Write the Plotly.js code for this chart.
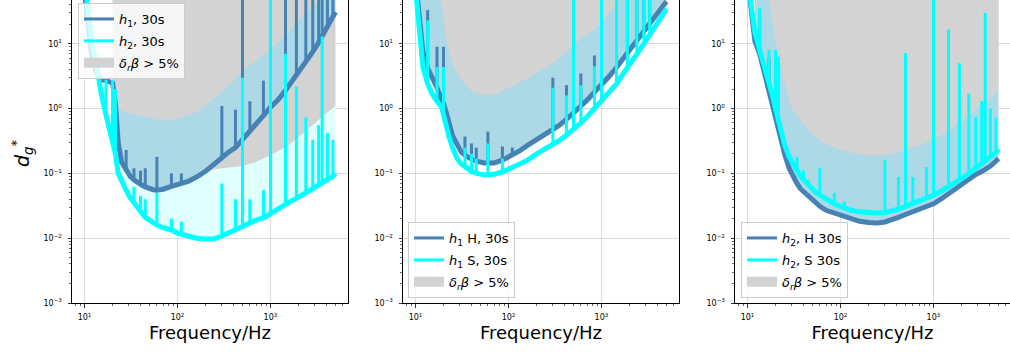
<!DOCTYPE html>
<html><head><meta charset="utf-8">
<script src="https://cdn.plot.ly/plotly-3.0.1.min.js"></script>
<style>html,body{margin:0;padding:0;background:#fff}#chart{width:1010px;height:352px}</style>
</head><body><div id="chart"></div>
<script>
// ---------- data ----------
const freq = [10, 11, 12, 13.5, 15, 17, 19, 20, 21.5, 23,
  25, 28, 31, 34, 37, 40, 45, 50, 55, 60,
  70, 86, 100, 110, 130, 160, 200, 250, 300, 350,
  420, 500, 600, 700, 840, 1000, 1200, 1450, 1700, 1900,
  2150, 2400, 2850, 3300, 3600, 4100, 4700, 5000];

// panel 1
const p1H1 = [60, 15, 6, 3.5, 2.8, 2.7, 2.6, 2.5, 1.2, 0.3,
  0.15, 0.11, 0.09, 0.08, 0.072, 0.068, 0.062, 0.058, 0.056, 0.055,
  0.057, 0.063, 0.068, 0.07, 0.075, 0.088, 0.108, 0.14, 0.18, 0.21,
  0.25, 0.33, 0.43, 0.55, 0.78, 1.05, 1.35, 1.9, 2.6, 3.2,
  4.2, 5.2, 7.5, 10.5, 13, 18, 26, 31];
const p1H2 = [100, 25, 10, 4.5, 1.8, 0.8, 0.4, 0.3, 0.2, 0.1,
  0.075, 0.055, 0.042, 0.035, 0.03, 0.026, 0.021, 0.019, 0.017, 0.016,
  0.0145, 0.0134, 0.012, 0.0115, 0.0105, 0.01, 0.0097, 0.0098, 0.0108, 0.012,
  0.0138, 0.0155, 0.0172, 0.019, 0.0205, 0.024, 0.029, 0.034, 0.038, 0.041,
  0.046, 0.051, 0.058, 0.066, 0.071, 0.08, 0.09, 0.1];
const p1H1SpikeF = [28, 34, 40, 45, 60, 86, 110, 300, 420, 500, 600, 840, 1000, 1450, 1900, 2400, 2850, 3300, 3600, 4100, 4700];
const p1H1SpikeV = [0.23, 0.12, 0.11, 0.12, 0.18, 0.1, 0.1, 1.1, 0.96, 100, 1.3, 2.7, 100, 100, 100, 100, 100, 100, 100, 100, 100];
const p1H2SpikeF = [17, 20, 21.5, 34, 40, 45, 60, 86, 110, 300, 420, 500, 600, 840, 1000, 1450, 1900, 2400, 2850, 3300, 3600, 4100, 4700];
const p1H2SpikeV = [2.8, 2.8, 2.0, 0.062, 0.045, 0.04, 0.05, 0.02, 0.018, 0.07, 0.04, 3.0, 0.04, 0.055, 100, 7.0, 2.2, 0.73, 0.33, 0.55, 13, 0.42, 0.33];

// panel 2
const p2H = [100, 22, 7.5, 4.2, 3.1, 2.1, 1.4, 1.2, 0.85, 0.55,
  0.38, 0.28, 0.215, 0.19, 0.175, 0.165, 0.155, 0.148, 0.145, 0.145,
  0.145, 0.16, 0.18, 0.19, 0.22, 0.27, 0.33, 0.4, 0.46, 0.55,
  0.68, 0.85, 1.1, 1.35, 1.8, 2.3, 3.1, 4.3, 5.8, 7.0,
  8.8, 10.8, 15, 20, 24, 31, 40, 45];
const p2S = [70, 15, 4.4, 2.4, 1.7, 1.3, 1.07, 0.8, 0.5, 0.36,
  0.25, 0.17, 0.14, 0.125, 0.115, 0.108, 0.1, 0.096, 0.095, 0.095,
  0.097, 0.105, 0.115, 0.123, 0.14, 0.16, 0.2, 0.24, 0.28, 0.32,
  0.39, 0.47, 0.6, 0.75, 1.0, 1.3, 1.75, 2.4, 3.4, 4.4,
  5.6, 7.0, 10, 13.5, 16.5, 22, 30, 35];
const p2HSpikeF = [13.5, 17, 20, 34, 40, 45, 60, 86, 110, 300, 420, 500, 600, 840, 1000, 1450, 1900, 2400, 2850, 3300];
const p2HSpikeV = [33, 9, 9, 0.37, 0.29, 0.25, 0.44, 0.26, 0.25, 3.0, 2.3, 100, 3.5, 6.6, 100, 100, 100, 100, 100, 100];
const p2SSpikeF = [13.5, 17, 20, 34, 40, 45, 60, 86, 300, 420, 500, 600, 840, 1000, 1450, 1900, 2400, 2850, 3300];
const p2SSpikeV = [23, 4.4, 4.4, 0.25, 0.2, 0.17, 0.29, 0.17, 2.1, 1.6, 100, 2.3, 4.5, 100, 100, 100, 100, 100, 100];

// panel 3
const p3H = [100, 25, 11, 7, 3.8, 2.0, 1.05, 0.8, 0.52, 0.31,
  0.2, 0.12, 0.088, 0.07, 0.058, 0.052, 0.044, 0.039, 0.035, 0.031,
  0.027, 0.0245, 0.022, 0.021, 0.0198, 0.0182, 0.0175, 0.0172, 0.0178, 0.019,
  0.021, 0.0232, 0.0255, 0.028, 0.0305, 0.034, 0.04, 0.049, 0.057, 0.064,
  0.073, 0.084, 0.096, 0.107, 0.115, 0.13, 0.155, 0.17];
const p3S = [100, 35, 15, 8, 4.8, 2.6, 1.4, 1.0, 0.7, 0.45,
  0.28, 0.18, 0.14, 0.11, 0.092, 0.08, 0.066, 0.057, 0.05, 0.046,
  0.04, 0.034, 0.031, 0.029, 0.027, 0.0255, 0.0245, 0.0245, 0.025, 0.026,
  0.028, 0.031, 0.034, 0.037, 0.041, 0.046, 0.053, 0.062, 0.071, 0.079,
  0.089, 0.1, 0.12, 0.14, 0.155, 0.18, 0.21, 0.24];
const p3HSpikeF = [13.5, 17, 20];
const p3HSpikeV = [25, 6, 6];
const p3SSpikeF = [13.5, 17, 20, 21.5, 34, 40, 45, 60, 86, 110, 300, 420, 500, 600, 840, 1000, 1450, 1900, 2400, 2850, 3300, 3600, 4100, 4700];
const p3SSpikeV = [36, 8, 8, 6.3, 0.18, 0.11, 0.08, 0.12, 0.05, 0.037, 0.16, 0.088, 7.2, 0.088, 0.125, 100, 16.5, 5, 1.7, 0.74, 1.3, 30, 1.0, 0.72];

// shaded regions (boundary curves)
const bandFreq = [10, 12, 14, 16, 18, 20, 22, 25, 30, 40, 50, 60, 80, 100, 150, 200, 300, 500, 700, 1000, 1500, 2000, 3000, 4000, 5000];
const p1GrayLow = [null, null, null, null, null, 3.0, 1.0, 0.4, 0.2, 0.15, 0.12, 0.12, 0.11, 0.1, 0.1, 0.11, 0.12, 0.13, 0.15, 0.19, 0.26, 0.36, 0.6, 0.85, 1.1];
const p1BlueTop = [null, null, null, null, null, null, 1.0, 0.95, 0.85, 0.78, 0.72, 0.68, 0.67, 0.7, 0.85, 1.1, 1.8, 3.8, 5.5, 8, 14, 22, 40, 70, 100];
const p2GrayLow = [null, null, null, null, 100, 22, 9.5, 5, 3.0, 1.85, 1.65, 1.6, 1.75, 2.1, 2.8, 3.6, 5.0, 9.5, 14, 20, 45, 100, null, null, null];
const p3GrayLow = [null, null, null, 100, 30, 10, 5.5, 2.5, 1.0, 0.58, 0.4, 0.32, 0.26, 0.23, 0.2, 0.19, 0.19, 0.23, 0.27, 0.34, 0.46, 0.64, 1.02, 1.4, 1.9];

// labels
const legendP1 = ['<i>h</i><sub>1</sub>, 30s', '<i>h</i><sub>2</sub>, 30s'];
const legendP2 = ['<i>h</i><sub>1</sub> H, 30s', '<i>h</i><sub>1</sub> S, 30s'];
const legendP3 = ['<i>h</i><sub>2</sub>, H 30s', '<i>h</i><sub>2</sub>, S 30s'];
const grayLabel = '<i>δ<sub>r</sub>β</i> &gt; 5%';
const xTickVals = [10, 100, 1000];
const xTickText = ['10<sup>1</sup>', '10<sup>2</sup>', '10<sup>3</sup>'];
const yTickVals = [0.001, 0.01, 0.1, 1, 10];
const yTickText = ['10<sup>\u22123</sup>', '10<sup>\u22122</sup>', '10<sup>\u22121</sup>', '10<sup>0</sup>', '10<sup>1</sup>'];
const xTitle = 'Frequency/Hz';
const yTitle = '<i>d</i><sub><i>g</i></sub><sup>*</sup>';

// ---------- helpers ----------
const TOP = 1000;
const FONT = 'DejaVu Sans';
const C_DARK = '#4682b4', C_CYAN = '#00ffff', C_LBLUE = '#add8e6', C_LCYAN = '#e0ffff', C_GRAY = '#d3d3d3';

function pick(f, v, lo, hi) {
  const x = [], y = [];
  for (let i = 0; i < f.length; i++) {
    if (v[i] != null && f[i] >= lo && f[i] <= hi) { x.push(f[i]); y.push(v[i]); }
  }
  return {x, y};
}
function toTop(f, v, lo) {
  const p = pick(f, v, lo, 5000);
  return {x: p.x.concat([p.x[p.x.length - 1], p.x[0]]), y: p.y.concat([TOP, TOP])};
}
function between(fl, vl, lo, fu, vu) {
  const a = pick(fl, vl, lo, 5000), b = pick(fu, vu, 0, 5000);
  return {x: a.x.concat(b.x.slice().reverse()), y: a.y.concat(b.y.slice().reverse())};
}
function spikes(sf, sv, f, v) {
  const x = [], y = [];
  sf.forEach((s, i) => { const k = f.indexOf(s); x.push(s, s, null); y.push(v[k], sv[i], null); });
  return {x, y};
}
function area(poly, color, xa, ya) {
  return {type: 'scatter', mode: 'lines', x: poly.x, y: poly.y, fill: 'toself',
    fillcolor: color, line: {width: 0, color: color}, hoverinfo: 'skip', showlegend: false,
    xaxis: xa, yaxis: ya};
}
function curve(f, v, color, xa, ya) {
  return {type: 'scatter', mode: 'lines', x: f, y: v, line: {color: color, width: 5},
    showlegend: false, xaxis: xa, yaxis: ya, hoverinfo: 'skip'};
}
function spikeTrace(p, color, xa, ya, name, leg, rank) {
  return {type: 'scatter', mode: 'lines', x: p.x, y: p.y, connectgaps: false,
    line: {color: color, width: 3}, name: name, legend: leg, legendrank: rank,
    legendgroup: leg + rank, xaxis: xa, yaxis: ya, hoverinfo: 'skip'};
}
// legend entry for the shaded region (patch drawn as a thick line sample)
function grayKey(xa, ya, leg) {
  return {type: 'scatter', mode: 'lines', x: [null], y: [null], line: {color: C_GRAY, width: 10},
    name: grayLabel, legend: leg, legendrank: 3, legendgroup: leg + '3', showlegend: true,
    xaxis: xa, yaxis: ya, hoverinfo: 'skip'};
}

const traces = [];
// panel 1
traces.push(area(toTop(freq, p1H2, 25), C_LCYAN, 'x', 'y'));
traces.push(area(toTop(bandFreq, p1GrayLow, 0), C_GRAY, 'x', 'y'));
traces.push(area(between(freq, p1H1, 23, bandFreq, p1BlueTop), C_LBLUE, 'x', 'y'));
traces.push(curve(freq, p1H1, C_DARK, 'x', 'y'));
traces.push(spikeTrace(spikes(p1H1SpikeF, p1H1SpikeV, freq, p1H1), C_DARK, 'x', 'y', legendP1[0], 'legend', 1));
traces.push(curve(freq, p1H2, C_CYAN, 'x', 'y'));
traces.push(spikeTrace(spikes(p1H2SpikeF, p1H2SpikeV, freq, p1H2), C_CYAN, 'x', 'y', legendP1[1], 'legend', 2));
traces.push(grayKey('x', 'y', 'legend'));
// panel 2
traces.push(area(toTop(freq, p2H, 11), C_LBLUE, 'x2', 'y2'));
traces.push(area(toTop(bandFreq, p2GrayLow, 0), C_GRAY, 'x2', 'y2'));
traces.push(curve(freq, p2H, C_DARK, 'x2', 'y2'));
traces.push(spikeTrace(spikes(p2HSpikeF, p2HSpikeV, freq, p2H), C_DARK, 'x2', 'y2', legendP2[0], 'legend2', 1));
traces.push(curve(freq, p2S, C_CYAN, 'x2', 'y2'));
traces.push(spikeTrace(spikes(p2SSpikeF, p2SSpikeV, freq, p2S), C_CYAN, 'x2', 'y2', legendP2[1], 'legend2', 2));
traces.push(grayKey('x2', 'y2', 'legend2'));
// panel 3
traces.push(area(toTop(freq, p3H, 12), C_LBLUE, 'x3', 'y3'));
traces.push(area(toTop(bandFreq, p3GrayLow, 0), C_GRAY, 'x3', 'y3'));
traces.push(curve(freq, p3H, C_DARK, 'x3', 'y3'));
traces.push(spikeTrace(spikes(p3HSpikeF, p3HSpikeV, freq, p3H), C_DARK, 'x3', 'y3', legendP3[0], 'legend3', 1));
traces.push(curve(freq, p3S, C_CYAN, 'x3', 'y3'));
traces.push(spikeTrace(spikes(p3SSpikeF, p3SSpikeV, freq, p3S), C_CYAN, 'x3', 'y3', legendP3[1], 'legend3', 2));
traces.push(grayKey('x3', 'y3', 'legend3'));

// minor tick positions (2..9 per decade)
const xMinor = [], yMinor = [];
for (let d = 0; d <= 3; d++) for (let k = 2; k <= 9; k++) xMinor.push(k * Math.pow(10, d));
for (let d = -3; d <= 1; d++) for (let k = 2; k <= 9; k++) yMinor.push(+(k * Math.pow(10, d)).toPrecision(3));

const W = 1010, H = 352;
const yDom = [(H - 303) / H, 1];
function xAxis(dom, range, anchor) {
  return {type: 'log', domain: dom, range: range, anchor: anchor, showline: true, linecolor: '#000',
    linewidth: 1, mirror: false, ticks: 'outside', ticklen: 3.5, tickwidth: 0.8, tickcolor: '#000',
    tickmode: 'array', tickvals: xTickVals, ticktext: xTickText, showgrid: true, gridcolor: '#cfcfcf',
    gridwidth: 0.8, zeroline: false, automargin: false, fixedrange: true, ticklabelstandoff: 3,
    tickfont: {family: FONT, size: 8, color: '#000'},
    minor: {tickmode: 'array', tickvals: xMinor, ticks: 'outside', ticklen: 2, tickwidth: 0.6,
      tickcolor: '#000', showgrid: false},
    title: {text: xTitle, font: {family: FONT, size: 18, color: '#000'}, standoff: 4}};
}
function yAxis(mirror, anchor) {
  return {type: 'log', domain: yDom, range: [-3, 1.676], anchor: anchor, showline: true, linecolor: '#000',
    linewidth: 1, mirror: mirror, ticks: 'outside', ticklen: 3.5, tickwidth: 0.8, tickcolor: '#000',
    tickmode: 'array', tickvals: yTickVals, ticktext: yTickText, showgrid: true, gridcolor: '#cfcfcf',
    gridwidth: 0.8, zeroline: false, automargin: false, fixedrange: true, ticklabelstandoff: 4,
    tickfont: {family: FONT, size: 8, color: '#000'},
    minor: {tickmode: 'array', tickvals: yMinor, ticks: 'outside', ticklen: 2, tickwidth: 0.6,
      tickcolor: '#000', showgrid: false}};
}

function legendAt(px, py) {
  return {x: px / W, y: 1 - py / H, xanchor: 'left', yanchor: 'top', bgcolor: 'rgba(255,255,255,0.8)',
    bordercolor: '#cccccc', borderwidth: 1, tracegroupgap: 2, traceorder: 'grouped',
    font: {family: FONT, size: 13, color: '#000'}};
}

const layout = {
  width: W, height: H, margin: {l: 0, r: 0, t: 0, b: 0, pad: 0},
  paper_bgcolor: '#fff', plot_bgcolor: '#fff',
  font: {family: FONT, color: '#000'},
  xaxis: xAxis([72 / W, 348 / W], [0.865, 3.834], 'y'),
  xaxis2: xAxis([403 / W, 679 / W], [0.865, 3.834], 'y2'),
  xaxis3: xAxis([735 / W, 1], [0.865, 3.823], 'y3'),
  yaxis: yAxis(true, 'x'), yaxis2: yAxis(true, 'x2'), yaxis3: yAxis(false, 'x3'),
  legend: legendAt(78, 3), legend2: legendAt(408, 222), legend3: legendAt(741, 222),
  annotations: [{text: yTitle, xref: 'paper', yref: 'paper', x: 23 / W, y: 1 - 153 / H,
    xanchor: 'center', yanchor: 'middle', textangle: -90, showarrow: false,
    font: {family: FONT, size: 19, color: '#000'}}]
};

Plotly.newPlot('chart', traces, layout, {displayModeBar: false, staticPlot: true});
</script></body></html>
